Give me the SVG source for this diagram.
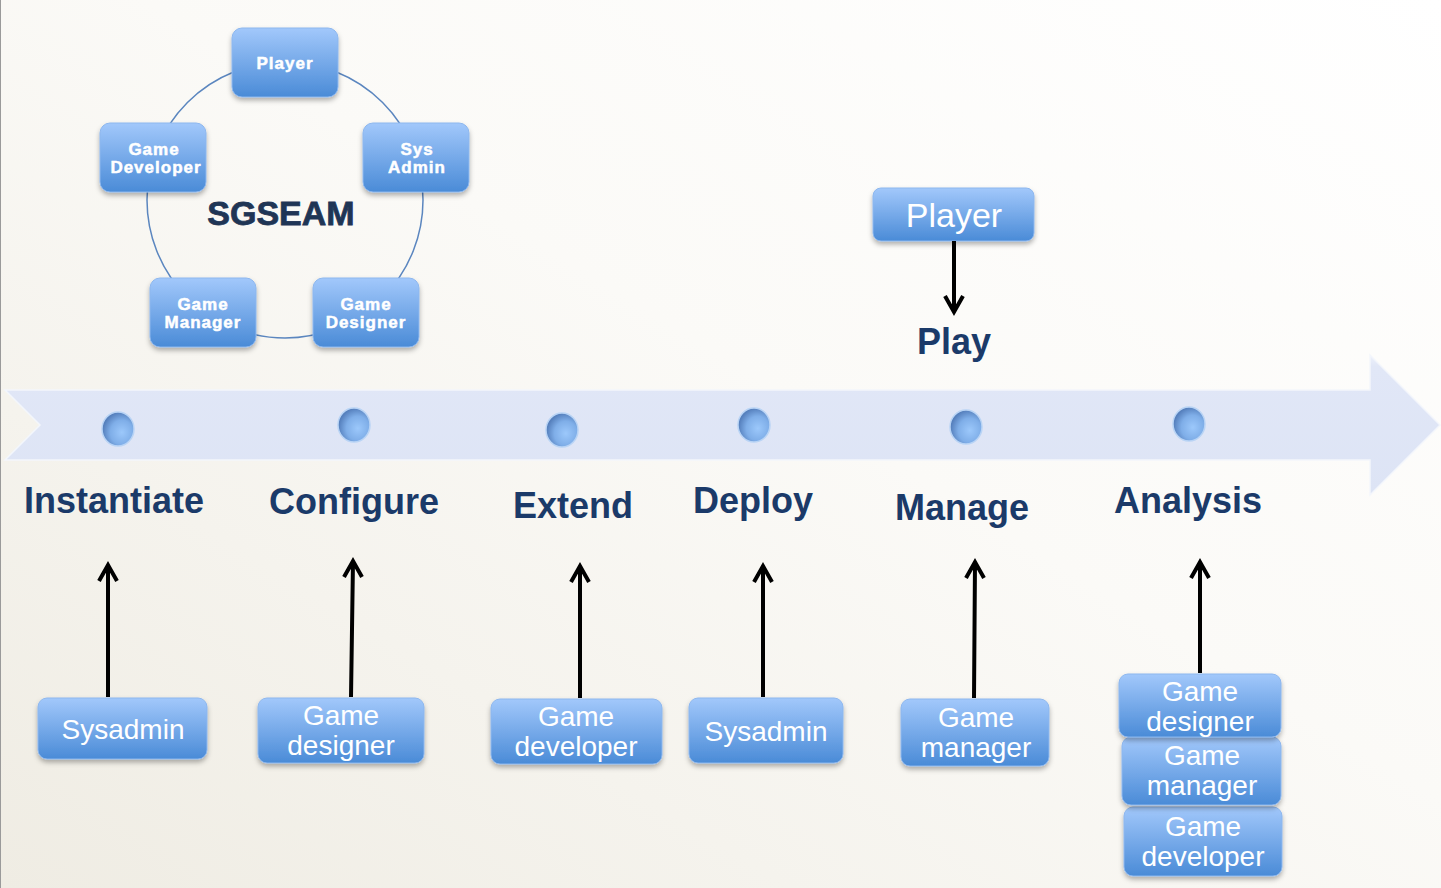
<svg xmlns="http://www.w3.org/2000/svg" width="1441" height="888" viewBox="0 0 1441 888">
<defs>
<linearGradient id="bg" x1="1" y1="0" x2="0" y2="1">
<stop offset="0" stop-color="#ffffff"/>
<stop offset="0.45" stop-color="#fbfaf7"/>
<stop offset="1" stop-color="#efece3"/>
</linearGradient>
<linearGradient id="box" x1="0" y1="0" x2="0" y2="1">
<stop offset="0" stop-color="#a2c8fb"/>
<stop offset="1" stop-color="#4a8bd7"/>
</linearGradient>
<linearGradient id="band" x1="0" y1="0" x2="0" y2="1">
<stop offset="0" stop-color="#eef2fb"/>
<stop offset="0.08" stop-color="#e1e7f7"/>
<stop offset="1" stop-color="#dde4f5"/>
</linearGradient>
<radialGradient id="dot" cx="0.62" cy="0.6" r="0.6">
<stop offset="0" stop-color="#9cc8fb"/>
<stop offset="0.6" stop-color="#7faee8"/>
<stop offset="1" stop-color="#5680bd"/>
</radialGradient>
<filter id="sh" x="-10%" y="-10%" width="120%" height="130%">
<feDropShadow dx="0" dy="3" stdDeviation="2.5" flood-color="#000" flood-opacity="0.3"/>
</filter>
<style>
.b{fill:url(#box);stroke:#8db7ee;stroke-width:1;filter:url(#sh)}
.st{font-family:"Liberation Sans",Arial,sans-serif;font-weight:bold;font-size:17px;fill:#ffffff;stroke:#ffffff;stroke-width:0.5px;text-anchor:middle;letter-spacing:1px}
.bt{font-family:"Liberation Sans",Arial,sans-serif;font-size:28px;fill:#ffffff;text-anchor:middle}
.big{font-size:34px}
.lb{font-family:"Liberation Sans",Arial,sans-serif;font-weight:bold;font-size:36px;fill:#1b3a69;text-anchor:middle}
.ar{fill:none;stroke:#000;stroke-width:4;stroke-linecap:butt;stroke-linejoin:miter}
.dt{fill:url(#dot);stroke:#b9d4f5;stroke-width:1.5}
</style>
</defs>
<rect x="0" y="0" width="1441" height="888" fill="url(#bg)"/>
<line x1="0.5" y1="0" x2="0.5" y2="888" stroke="#9a9a9a" stroke-width="1"/>

<g id="cycle">
<circle cx="285" cy="200" r="138" fill="none" stroke="#5b86bf" stroke-width="1.5"/>
<text x="281" y="225" font-family="'Liberation Sans',Arial,sans-serif" font-weight="bold" font-size="34" fill="#1f3555" stroke="#1f3555" stroke-width="0.8" text-anchor="middle">SGSEAM</text>
</g>
<g id="n-player-small"><rect class="b" x="232" y="28" width="106" height="69" rx="10"/><text class="st" x="285" y="69">Player</text></g>
<g id="n-gamedev-small"><rect class="b" x="100" y="123" width="106" height="69" rx="10"/><text class="st" x="154" y="155">Game</text><text class="st" x="156" y="173">Developer</text></g>
<g id="n-sysadmin-small"><rect class="b" x="363" y="123" width="106" height="69" rx="10"/><text class="st" x="417" y="155">Sys</text><text class="st" x="417" y="173">Admin</text></g>
<g id="n-gamemgr-small"><rect class="b" x="150" y="278" width="106" height="69" rx="10"/><text class="st" x="203" y="310">Game</text><text class="st" x="203" y="328">Manager</text></g>
<g id="n-gamedes-small"><rect class="b" x="313" y="278" width="106" height="69" rx="10"/><text class="st" x="366" y="310">Game</text><text class="st" x="366" y="328">Designer</text></g>

<g id="timeline">
<path d="M5 390 L1370 390 L1370 355 L1440 425 L1370 495 L1370 460 L5 460 L40 425 Z" fill="url(#band)" stroke="#f3f6fc" stroke-width="1.5"/>
<ellipse class="dt" cx="118" cy="429" rx="16" ry="17"/>
<ellipse class="dt" cx="354" cy="425" rx="16" ry="17"/>
<ellipse class="dt" cx="562" cy="430" rx="16" ry="17"/>
<ellipse class="dt" cx="754" cy="425" rx="16" ry="17"/>
<ellipse class="dt" cx="966" cy="427" rx="16" ry="17"/>
<ellipse class="dt" cx="1189" cy="424" rx="16" ry="17"/>
</g>

<g id="labels">
<text class="lb" x="114" y="513">Instantiate</text>
<text class="lb" x="354" y="514">Configure</text>
<text class="lb" x="573" y="518">Extend</text>
<text class="lb" x="753" y="513">Deploy</text>
<text class="lb" x="962" y="520">Manage</text>
<text class="lb" x="1188" y="513">Analysis</text>
<text class="lb" x="954" y="354">Play</text>
</g>

<g id="n-player"><rect class="b" x="873" y="188" width="161" height="53" rx="8"/><text class="bt big" x="954" y="227">Player</text></g>

<g id="n-sysadmin-1"><rect class="b" x="38" y="698" width="169" height="61" rx="9"/><text class="bt" x="123" y="739">Sysadmin</text></g>
<g id="n-gamedesigner-1"><rect class="b" x="258" y="698" width="166" height="65" rx="9"/><text class="bt" x="341" y="725">Game</text><text class="bt" x="341" y="755">designer</text></g>
<g id="n-gamedeveloper-1"><rect class="b" x="491" y="699" width="171" height="65" rx="9"/><text class="bt" x="576" y="726">Game</text><text class="bt" x="576" y="756">developer</text></g>
<g id="n-sysadmin-2"><rect class="b" x="689" y="698" width="154" height="65" rx="9"/><text class="bt" x="766" y="741">Sysadmin</text></g>
<g id="n-gamemanager-1"><rect class="b" x="901" y="699" width="148" height="67" rx="9"/><text class="bt" x="976" y="727">Game</text><text class="bt" x="976" y="757">manager</text></g>
<g id="n-gamedeveloper-2"><rect class="b" x="1124" y="807" width="158" height="69" rx="9"/><text class="bt" x="1203" y="836">Game</text><text class="bt" x="1203" y="866">developer</text></g>
<g id="n-gamemanager-2"><rect class="b" x="1122" y="737" width="159" height="68" rx="9"/><text class="bt" x="1202" y="765">Game</text><text class="bt" x="1202" y="795">manager</text></g>
<g id="n-gamedesigner-2"><rect class="b" x="1119" y="674" width="162" height="63" rx="9"/><text class="bt" x="1200" y="701">Game</text><text class="bt" x="1200" y="731">designer</text></g>

<g id="connectors">
<path class="ar" d="M954 241 L954 312 M945 296 L954 312 L963 296"/>
<path class="ar" d="M108 697 L108 565 M99 581 L108 565 L117 581"/>
<path class="ar" d="M351 697 L353 561 M344 577 L353 561 L362 577"/>
<path class="ar" d="M580 698 L580 566 M571 582 L580 566 L589 582"/>
<path class="ar" d="M763 697 L763 566 M754 582 L763 566 L772 582"/>
<path class="ar" d="M974 698 L975 562 M966 578 L975 562 L984 578"/>
<path class="ar" d="M1200 673 L1200 562 M1191 578 L1200 562 L1209 578"/>
</g>
</svg>
